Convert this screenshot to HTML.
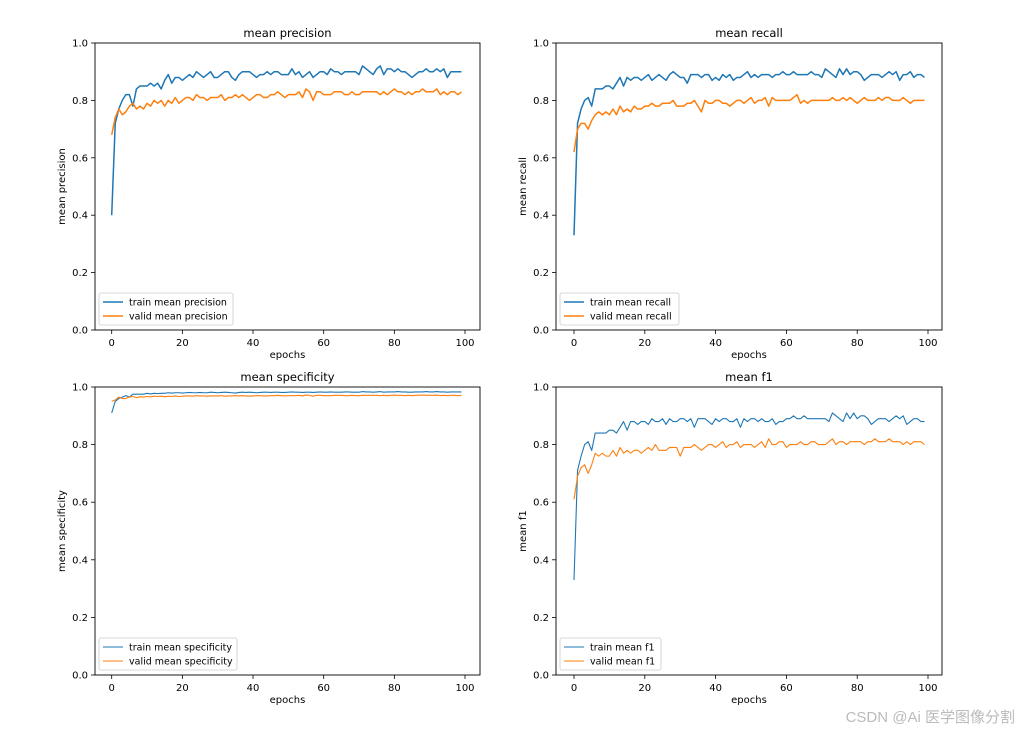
<!DOCTYPE html>
<html><head><meta charset="utf-8">
<style>
html,body{margin:0;padding:0;background:#fff;}
svg{display:block;font-family:"DejaVu Sans","Liberation Sans",sans-serif;}
</style></head>
<body>
<svg id="fig" width="1020" height="734" viewBox="0 0 1020 734">
<text x="1015" y="722" text-anchor="end" font-size="15" fill="#bbbbbb" font-family="Liberation Sans, Noto Sans CJK SC, sans-serif">CSDN @Ai 医学图像分割</text>
</svg>
<script>
const xTicks = [0, 20, 40, 60, 80, 100];
const yTicks = [0.0, 0.2, 0.4, 0.6, 0.8, 1.0];
const precTrain = [0.40,0.72,0.77,0.80,0.82,0.82,0.78,0.84,0.85,0.85,0.85,0.86,0.85,0.86,0.84,0.87,0.89,0.86,0.88,0.88,0.87,0.88,0.89,0.88,0.90,0.89,0.88,0.89,0.90,0.88,0.88,0.89,0.90,0.90,0.88,0.87,0.89,0.90,0.90,0.90,0.89,0.88,0.89,0.89,0.90,0.89,0.90,0.90,0.89,0.89,0.89,0.91,0.89,0.90,0.88,0.89,0.90,0.88,0.89,0.90,0.90,0.89,0.91,0.90,0.90,0.89,0.90,0.90,0.90,0.90,0.89,0.92,0.91,0.90,0.89,0.91,0.92,0.89,0.91,0.91,0.90,0.91,0.90,0.90,0.89,0.88,0.89,0.90,0.90,0.91,0.90,0.90,0.91,0.90,0.91,0.88,0.90,0.90,0.90,0.90];
const precValid = [0.68,0.74,0.77,0.75,0.76,0.78,0.79,0.77,0.78,0.77,0.79,0.78,0.80,0.79,0.80,0.78,0.80,0.79,0.81,0.79,0.80,0.81,0.81,0.80,0.82,0.81,0.81,0.80,0.81,0.81,0.81,0.82,0.80,0.81,0.81,0.82,0.81,0.82,0.81,0.80,0.81,0.82,0.82,0.81,0.81,0.82,0.82,0.83,0.82,0.81,0.82,0.82,0.82,0.83,0.81,0.84,0.83,0.80,0.83,0.83,0.82,0.82,0.82,0.83,0.83,0.83,0.82,0.82,0.83,0.82,0.82,0.83,0.83,0.83,0.83,0.83,0.82,0.83,0.82,0.83,0.84,0.83,0.83,0.82,0.83,0.82,0.83,0.83,0.84,0.83,0.83,0.83,0.84,0.82,0.83,0.82,0.83,0.83,0.82,0.83];
const recTrain = [0.33,0.72,0.77,0.80,0.81,0.78,0.84,0.84,0.84,0.85,0.85,0.84,0.86,0.88,0.85,0.88,0.87,0.88,0.88,0.87,0.88,0.89,0.87,0.88,0.89,0.88,0.87,0.89,0.90,0.89,0.88,0.88,0.86,0.89,0.89,0.89,0.88,0.89,0.89,0.87,0.88,0.87,0.89,0.88,0.89,0.87,0.88,0.88,0.89,0.90,0.88,0.89,0.88,0.89,0.89,0.89,0.88,0.89,0.89,0.90,0.89,0.89,0.90,0.89,0.89,0.89,0.89,0.90,0.89,0.89,0.88,0.91,0.90,0.89,0.88,0.91,0.89,0.91,0.89,0.90,0.90,0.89,0.87,0.88,0.89,0.89,0.89,0.88,0.89,0.90,0.89,0.90,0.87,0.89,0.89,0.90,0.88,0.89,0.89,0.88];
const recValid = [0.62,0.70,0.72,0.72,0.70,0.73,0.75,0.76,0.75,0.76,0.75,0.77,0.75,0.78,0.76,0.77,0.76,0.78,0.77,0.77,0.78,0.78,0.79,0.78,0.78,0.79,0.79,0.79,0.80,0.78,0.78,0.78,0.79,0.79,0.80,0.78,0.76,0.80,0.79,0.79,0.80,0.80,0.79,0.79,0.78,0.79,0.80,0.80,0.79,0.80,0.81,0.79,0.80,0.80,0.81,0.78,0.81,0.80,0.80,0.80,0.80,0.80,0.81,0.82,0.79,0.80,0.79,0.80,0.80,0.80,0.80,0.80,0.80,0.81,0.80,0.80,0.81,0.80,0.81,0.80,0.79,0.80,0.81,0.80,0.80,0.80,0.81,0.80,0.81,0.81,0.80,0.80,0.80,0.81,0.80,0.79,0.80,0.80,0.80,0.80];
const specTrain = [0.91,0.95,0.96,0.965,0.97,0.965,0.975,0.975,0.975,0.975,0.978,0.976,0.978,0.977,0.978,0.978,0.98,0.979,0.98,0.98,0.979,0.98,0.981,0.98,0.98,0.981,0.98,0.98,0.982,0.981,0.98,0.981,0.982,0.981,0.98,0.979,0.981,0.982,0.981,0.982,0.981,0.98,0.981,0.982,0.982,0.981,0.982,0.982,0.981,0.981,0.982,0.983,0.982,0.982,0.981,0.982,0.982,0.981,0.982,0.983,0.982,0.982,0.983,0.982,0.982,0.982,0.983,0.983,0.982,0.982,0.982,0.984,0.983,0.983,0.982,0.983,0.984,0.982,0.983,0.983,0.983,0.984,0.983,0.983,0.982,0.982,0.983,0.983,0.983,0.984,0.983,0.983,0.984,0.983,0.983,0.982,0.983,0.983,0.983,0.983];
const specValid = [0.95,0.955,0.965,0.96,0.96,0.965,0.967,0.963,0.966,0.965,0.967,0.966,0.968,0.967,0.968,0.966,0.968,0.967,0.969,0.967,0.968,0.969,0.969,0.968,0.97,0.969,0.969,0.968,0.969,0.969,0.969,0.97,0.968,0.969,0.969,0.97,0.969,0.97,0.969,0.968,0.969,0.97,0.97,0.969,0.969,0.97,0.97,0.971,0.97,0.969,0.97,0.97,0.97,0.971,0.969,0.972,0.971,0.968,0.971,0.971,0.97,0.97,0.97,0.971,0.971,0.971,0.97,0.97,0.971,0.97,0.97,0.971,0.971,0.971,0.971,0.971,0.97,0.971,0.97,0.971,0.972,0.971,0.971,0.97,0.971,0.97,0.971,0.971,0.972,0.971,0.971,0.971,0.972,0.97,0.971,0.97,0.971,0.971,0.97,0.971];
const f1Train = [0.33,0.71,0.76,0.80,0.81,0.78,0.84,0.84,0.84,0.84,0.85,0.85,0.84,0.86,0.88,0.85,0.88,0.88,0.87,0.88,0.88,0.87,0.89,0.88,0.88,0.89,0.87,0.89,0.88,0.88,0.89,0.89,0.88,0.89,0.86,0.89,0.89,0.89,0.88,0.87,0.89,0.88,0.89,0.89,0.88,0.88,0.89,0.86,0.89,0.88,0.89,0.89,0.88,0.89,0.88,0.88,0.89,0.87,0.88,0.88,0.89,0.89,0.90,0.89,0.89,0.90,0.89,0.89,0.89,0.89,0.89,0.89,0.88,0.91,0.90,0.89,0.88,0.91,0.89,0.91,0.89,0.90,0.90,0.89,0.87,0.88,0.89,0.89,0.89,0.88,0.89,0.90,0.89,0.90,0.87,0.88,0.89,0.89,0.88,0.88];
const f1Valid = [0.61,0.69,0.72,0.73,0.70,0.73,0.77,0.76,0.77,0.76,0.76,0.78,0.76,0.79,0.77,0.78,0.77,0.78,0.78,0.77,0.78,0.79,0.78,0.80,0.78,0.78,0.78,0.79,0.79,0.79,0.76,0.79,0.79,0.79,0.80,0.79,0.78,0.79,0.80,0.80,0.79,0.80,0.81,0.79,0.80,0.80,0.81,0.79,0.80,0.80,0.80,0.79,0.80,0.81,0.79,0.82,0.80,0.80,0.81,0.81,0.79,0.80,0.80,0.80,0.81,0.80,0.80,0.81,0.81,0.80,0.80,0.80,0.81,0.82,0.80,0.81,0.81,0.80,0.81,0.81,0.81,0.81,0.80,0.81,0.81,0.82,0.81,0.81,0.81,0.82,0.81,0.81,0.81,0.80,0.81,0.80,0.81,0.81,0.81,0.80];

const NS='http://www.w3.org/2000/svg';
const svg=document.getElementById('fig');
function mk(tag,attrs,parent,text){const e=document.createElementNS(NS,tag);for(const k in attrs)e.setAttribute(k,attrs[k]);if(text!==undefined)e.textContent=text;(parent||svg).appendChild(e);return e;}

const panels=[
 {key:'precision',title:'mean precision',ylab:'mean precision',L:95,R:480,T:43,B:330,x0:111.7,x100:465,tr:precTrain,va:precValid,lw:1.5},
 {key:'recall',title:'mean recall',ylab:'mean recall',L:556,R:942,T:43,B:330,x0:574,x100:928,tr:recTrain,va:recValid,lw:1.5},
 {key:'specificity',title:'mean specificity',ylab:'mean specificity',L:95,R:480,T:387,B:675,x0:111.7,x100:465,tr:specTrain,va:specValid,lw:1.1},
 {key:'f1',title:'mean f1',ylab:'mean f1',L:556,R:942,T:387,B:675,x0:574,x100:928,tr:f1Train,va:f1Valid,lw:1.1}
];
panels.forEach(p=>{
 const g=mk('g',{});
 
 
 const xs=v=>p.x0+(p.x100-p.x0)*v/100;
 const ys=v=>p.B-(p.B-p.T)*v;
 const t=mk('text',{x:(p.L+p.R)/2,y:p.T-6,'text-anchor':'middle','font-size':11.5,fill:'#000'},g,p.title);
 
 
 [['train',p.tr,'#1f77b4'],['valid',p.va,'#ff7f0e']].forEach(([nm,arr,c])=>{
  const d=arr.map((v,i)=>(i?'L':'M')+xs(i).toFixed(2)+','+ys(v).toFixed(2)).join('');
  const pl=mk('path',{d:d,fill:'none',stroke:c,'stroke-width':p.lw,'stroke-linejoin':'round'},g);
  
  
 });
 const fr=mk('rect',{x:p.L,y:p.T,width:p.R-p.L,height:p.B-p.T,fill:'none',stroke:'#000','stroke-width':0.9},g);
 
 
 xTicks.forEach(v=>{
  mk('line',{x1:xs(v),x2:xs(v),y1:p.B,y2:p.B+4,stroke:'#000','stroke-width':0.8},g);
  const tl=mk('text',{x:xs(v),y:p.B+16,'text-anchor':'middle','font-size':10,fill:'#000'},g,String(v));
  
  
 });
 yTicks.forEach(v=>{
  mk('line',{x1:p.L-4,x2:p.L,y1:ys(v),y2:ys(v),stroke:'#000','stroke-width':0.8},g);
  const tl=mk('text',{x:p.L-7,y:ys(v)+3.5,'text-anchor':'end','font-size':10,fill:'#000'},g,v.toFixed(1));
  
  
 });
 const xl=mk('text',{x:(p.L+p.R)/2,y:p.B+28,'text-anchor':'middle','font-size':10,fill:'#000'},g,'epochs');
 
 
 const yx=p.L-30, yy=(p.T+p.B)/2;
 const yl=mk('text',{x:yx,y:yy,'text-anchor':'middle','font-size':10,fill:'#000',transform:'rotate(-90 '+yx+' '+yy+')'},g,p.ylab);
 
 
 const lg=mk('g',{},g);
 
 
 const lw=p.key==='precision'?134:(p.key==='specificity'?138:(p.key==='recall'?119:101));
 mk('rect',{x:p.L+4,y:p.B-37,width:lw,height:32,rx:2,fill:'#fff',stroke:'#ccc','stroke-width':0.8},lg);
 [['train','#1f77b4',p.B-28],['valid','#ff7f0e',p.B-14]].forEach(([nm,c,y])=>{
  mk('line',{x1:p.L+8,x2:p.L+28,y1:y,y2:y,stroke:c,'stroke-width':p.lw},lg);
  const le=mk('text',{x:p.L+34,y:y+3.5,'font-size':9.5,fill:'#000'},lg,nm+' '+p.title);
  
  
 });
});
</script>
</body></html>
